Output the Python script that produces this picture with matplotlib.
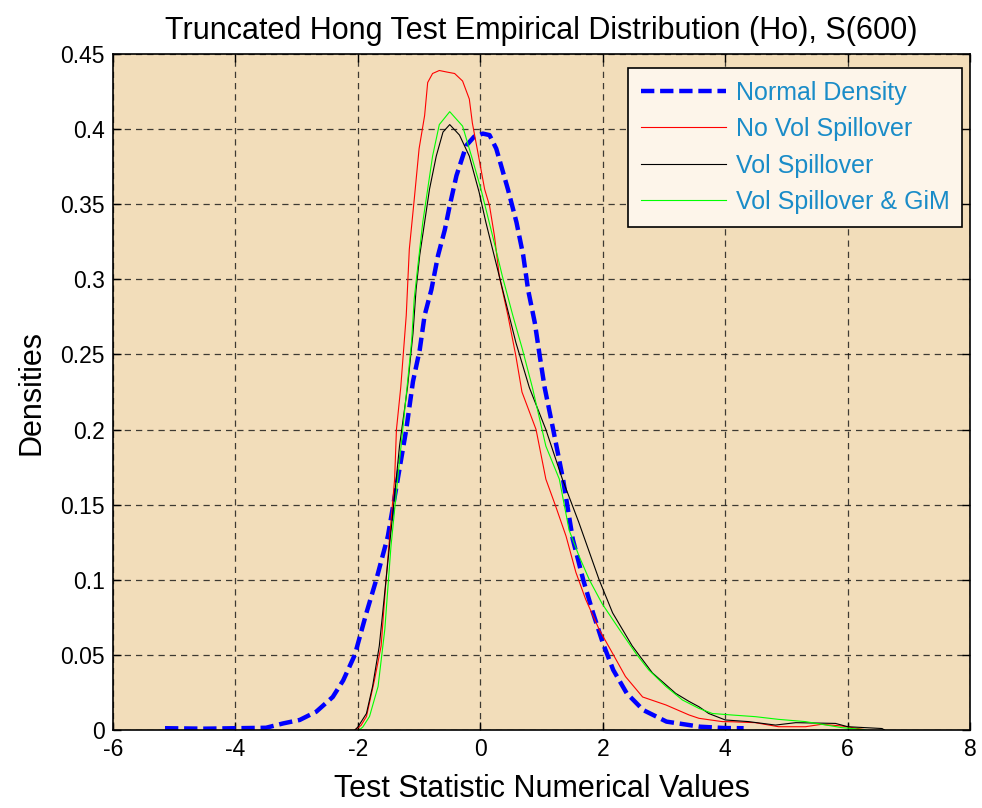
import matplotlib
matplotlib.use("Agg")
import matplotlib.pyplot as plt

plt.rcParams['font.family'] = ['Liberation Sans', 'DejaVu Sans']
plt.rcParams['axes.unicode_minus'] = False

# Normal density (dashed blue)
normal_x = [-5.15, -4.5, -4.0, -3.5, -3.22, -2.95, -2.68, -2.41, -2.24, -2.05, -1.86, -1.70,
            -1.51, -1.37, -1.21, -1.10, -0.99, -0.91, -0.80, -0.69, -0.58, -0.50, -0.39, -0.23,
            -0.10, 0.04, 0.15, 0.26, 0.45, 0.59, 0.70, 0.78, 0.89, 0.97, 1.05, 1.19, 1.35, 1.51,
            1.68, 1.84, 2.00, 2.17, 2.39, 2.66, 3.04, 3.59, 4.0, 4.3]
normal_y = [0.0012, 0.0009, 0.0012, 0.0015, 0.0044, 0.0067, 0.0122, 0.022, 0.033, 0.05, 0.078, 0.1,
            0.129, 0.162, 0.2, 0.232, 0.253, 0.276, 0.293, 0.316, 0.333, 0.349, 0.369, 0.389,
            0.395, 0.397, 0.396, 0.387, 0.36, 0.338, 0.316, 0.293, 0.271, 0.249, 0.228, 0.2, 0.167, 0.127,
            0.1, 0.078, 0.058, 0.04, 0.0245, 0.0133, 0.0056, 0.0022, 0.0013, 0.0012]

# No Vol Spillover (red)
novol_x = [-2.05, -1.95, -1.86, -1.73, -1.62, -1.54, -1.48, -1.40, -1.37, -1.30, -1.21, -1.16,
           -1.08, -1.0, -0.91, -0.86, -0.78, -0.67, -0.55, -0.42, -0.29, -0.18, -0.13, -0.02,
           0.07, 0.15, 0.23, 0.31, 0.45, 0.58, 0.68, 0.91, 1.07, 1.23, 1.40, 1.56, 1.72, 1.94,
           2.16, 2.37, 2.65, 3.03, 3.41, 3.57, 3.95, 4.11, 4.49, 4.87, 5.31, 5.57, 5.9, 6.26]
novol_y = [0.0, 0.003, 0.009, 0.033, 0.056, 0.1, 0.129, 0.167, 0.2, 0.228, 0.276, 0.32,
           0.353, 0.387, 0.409, 0.431, 0.437, 0.439, 0.438, 0.437, 0.432, 0.42, 0.404, 0.38,
           0.36, 0.349, 0.329, 0.302, 0.276, 0.249, 0.225, 0.2, 0.167, 0.149, 0.129, 0.105, 0.087, 0.067,
           0.051, 0.0356, 0.022, 0.0167, 0.01, 0.0078, 0.0056, 0.0055, 0.0049, 0.0022, 0.0022, 0.0038, 0.0027, 0.0004]

# Vol Spillover (black)
vol_x = [-2.05, -2.0, -1.86, -1.76, -1.65, -1.54, -1.43, -1.32, -1.19, -1.10, -1.05, -0.99,
         -0.91, -0.83, -0.72, -0.61, -0.50, -0.34, -0.18, -0.02, 0.09, 0.20, 0.31, 0.42,
         0.58, 0.80, 1.07, 1.34, 1.61, 1.94, 2.16, 2.48, 2.81, 3.19, 3.41, 3.57, 3.73, 4.0,
         4.38, 4.82, 5.15, 5.8, 6.0, 6.56, 6.6]
vol_y = [0.0, 0.002, 0.011, 0.029, 0.056, 0.1, 0.144, 0.189, 0.228, 0.264, 0.293, 0.316,
         0.338, 0.36, 0.382, 0.398, 0.403, 0.396, 0.382, 0.358, 0.338, 0.32, 0.302, 0.284,
         0.258, 0.228, 0.2, 0.167, 0.138, 0.1, 0.078, 0.056, 0.038, 0.0244, 0.019, 0.0155, 0.011, 0.0067,
         0.0056, 0.0033, 0.0049, 0.0044, 0.0022, 0.001, 0.0]

# Vol Spillover & GiM (green)
gim_x = [-1.98, -1.92, -1.81, -1.67, -1.56, -1.46, -1.35, -1.18, -1.12, -1.08, -1.02, -0.94,
         -0.86, -0.78, -0.67, -0.50, -0.29, -0.13, 0.01, 0.12, 0.23, 0.36, 0.53, 0.69,
         0.85, 1.07, 1.29, 1.45, 1.61, 1.78, 1.99, 2.27, 2.54, 2.75, 3.03, 3.30, 3.57, 3.79,
         4.11, 4.49, 4.87, 5.31, 5.74, 5.9, 6.23, 6.3]
gim_y = [0.0, 0.002, 0.009, 0.029, 0.067, 0.122, 0.167, 0.235, 0.26, 0.287, 0.309, 0.338,
         0.36, 0.382, 0.403, 0.4116, 0.402, 0.38, 0.36, 0.342, 0.324, 0.302, 0.276, 0.253,
         0.228, 0.189, 0.167, 0.133, 0.116, 0.1, 0.084, 0.067, 0.051, 0.04, 0.029, 0.02, 0.0144, 0.011,
         0.010, 0.0089, 0.0071, 0.0056, 0.0027, 0.0016, 0.0004, 0.0]

x_ticks = [-6, -4, -2, 0, 2, 4, 6, 8]
y_ticks = [0, 0.05, 0.1, 0.15, 0.2, 0.25, 0.3, 0.35, 0.4, 0.45]
y_tick_labels = ['0', '0.05', '0.1', '0.15', '0.2', '0.25', '0.3', '0.35', '0.4', '0.45']

fig = plt.figure(figsize=(9.82, 8.08), dpi=100)
ax = fig.add_axes([0.115, 0.0965, 0.873, 0.8367])
ax.set_facecolor('#F2DDBA')

ax.plot(normal_x, normal_y, color='#0000FF', lw=3.2, linestyle=(0, (3, 1.3)), label='Normal Density')
ax.plot(novol_x, novol_y, color='#FF0000', lw=0.8, label='No Vol Spillover')
ax.plot(vol_x, vol_y, color='black', lw=0.8, label='Vol Spillover')
ax.plot(gim_x, gim_y, color='#00FF00', lw=0.8, label='Vol Spillover & GiM')

ax.set_xlim(-6, 8)
ax.set_ylim(0, 0.45)
ax.set_xticks(x_ticks)
ax.set_yticks(y_ticks)
ax.set_yticklabels(y_tick_labels)
ax.tick_params(direction='in', top=True, right=True, length=6, width=1, labelsize=16.5, pad=6)
ax.grid(True, color='#111111', linestyle=(0, (5, 4)), linewidth=0.9, alpha=0.8)
for s in ax.spines.values():
    s.set_linewidth(1.2)

ax.set_title('Truncated Hong Test Empirical Distribution (Ho), S(600)', fontsize=22, pad=11)
ax.set_xlabel('Test Statistic Numerical Values', fontsize=22, labelpad=9)
ax.set_ylabel('Densities', fontsize=22, labelpad=10)

leg = ax.legend(loc='upper right', bbox_to_anchor=(0.9907, 0.979), borderaxespad=0,
                fontsize=18, handlelength=3.4, handletextpad=0.4, labelspacing=0.5,
                borderpad=0.5, fancybox=False, framealpha=1, facecolor='#FDF5EA',
                edgecolor='black')
leg.get_frame().set_linewidth(1.2)
for t in leg.get_texts():
    t.set_color('#1A8CC8')

fig.savefig('out.png', dpi=100, facecolor='white')
